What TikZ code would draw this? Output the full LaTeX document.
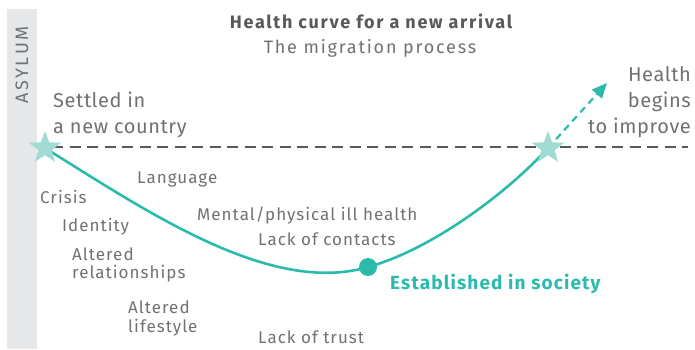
\documentclass[tikz,border=0pt]{standalone}
\usepackage{fontspec}
\setmainfont{Fira Sans}
\newfontfamily\lblfont{Fira Sans}[LetterSpace=6]
\newfontfamily\bigfont{Fira Sans}[LetterSpace=3]
\newfontfamily\subfont{Fira Sans}[LetterSpace=10]
\newfontfamily\sidefont{Fira Sans}[LetterSpace=15]
\newfontfamily\titlefont{Fira Sans}[LetterSpace=9.5]
\newfontfamily\estfont{Fira Sans}[LetterSpace=6]
\usetikzlibrary{shapes.geometric,arrows.meta}

\definecolor{textgray}{HTML}{707174}
\definecolor{titlegray}{HTML}{58595B}
\definecolor{linegray}{HTML}{58595B}
\definecolor{bargray}{HTML}{E6E7E8}
\definecolor{teal}{HTML}{2BBBAD}
\definecolor{starteal}{HTML}{A0DCD3}

\tikzset{
  lbl/.style={text=textgray, inner sep=0pt, anchor=base west, font=\lblfont\fontsize{17}{20}\selectfont},
  biglbl/.style={lbl, font=\bigfont\fontsize{20}{26}\selectfont},
  rightlbl/.style={biglbl, anchor=base east},
  marker/.style={star, star points=5, star point ratio=2.4, minimum size=34pt, inner sep=0pt, fill=starteal, draw=none},
  curve/.style={draw=teal, line width=2.6pt},
  level/.style={draw=linegray, line width=2.6pt, dash pattern=on 11pt off 6.5pt},
}

\begin{document}
\begin{tikzpicture}[x=1pt, y=-1pt]
\useasboundingbox (0,0) rectangle (695,349);

% side bar with rotated label
\fill[bargray] (7,9) rectangle (37,349);
\node[text=textgray, font=\sidefont\fontsize{18}{18}\selectfont, rotate=90, inner sep=0pt] (asylum) at (22,65) {ASYLUM};

% title
\node[text=titlegray, font=\titlefont\bfseries\fontsize{18}{20}\selectfont, inner sep=0pt, anchor=base] (title) at (371,28) {Health curve for a new arrival};
\node[text=textgray, font=\subfont\fontsize{18}{20}\selectfont, inner sep=0pt, anchor=base] (subtitle) at (370,53) {The migration process};

% reference level
\coordinate (lvlA) at (52,147);
\coordinate (lvlB) at (688,147);
\draw[level] (lvlA) -- (lvlB);

% health curve
\coordinate (start) at (45,148);
\coordinate (low) at (368,267);
\coordinate (finish) at (548,148);
\coordinate (tip) at (607,83);
\draw[curve] (start) .. controls (145,210) and (270,296) .. (low)
                     .. controls (430,250) and (505,195) .. (finish);
\draw[draw=teal, line width=2.2pt, dash pattern=on 7pt off 5pt, -{Triangle[length=15pt, width=13pt]}] (finish) -- (tip);

\node[marker] (s1) at (start) {};
\node[marker] (s2) at (finish) {};
\node[circle, fill=teal, minimum size=18pt, inner sep=0pt] (dot) at (low) {};

% labels
\node[biglbl] (settledA) at (53,107) {Settled in};
\node[biglbl] (settledB) at (53,133) {a new country};
\node[rightlbl] (healthA) at (691,81) {Health};
\node[rightlbl] (healthB) at (691,107) {begins};
\node[rightlbl] (healthC) at (691,133) {to improve};

\node[lbl] (language) at (137,183) {Language};
\node[lbl] (crisis) at (40,203) {Crisis};
\node[lbl] (identity) at (62,231) {Identity};
\node[lbl] (relA) at (72,260) {Altered};
\node[lbl] (relB) at (72,278) {relationships};
\node[lbl] (mental) at (197,220) {Mental/physical ill health};
\node[lbl] (contacts) at (258,245) {Lack of contacts};
\node[lbl] (lifeA) at (128,313) {Altered};
\node[lbl] (lifeB) at (128,332) {lifestyle};
\node[lbl] (trust) at (258,343) {Lack of trust};

\node[text=teal, font=\estfont\bfseries\fontsize{19}{20}\selectfont, inner sep=0pt, anchor=base west] (est) at (390,289) {Established in society};
\end{tikzpicture}
\end{document}
